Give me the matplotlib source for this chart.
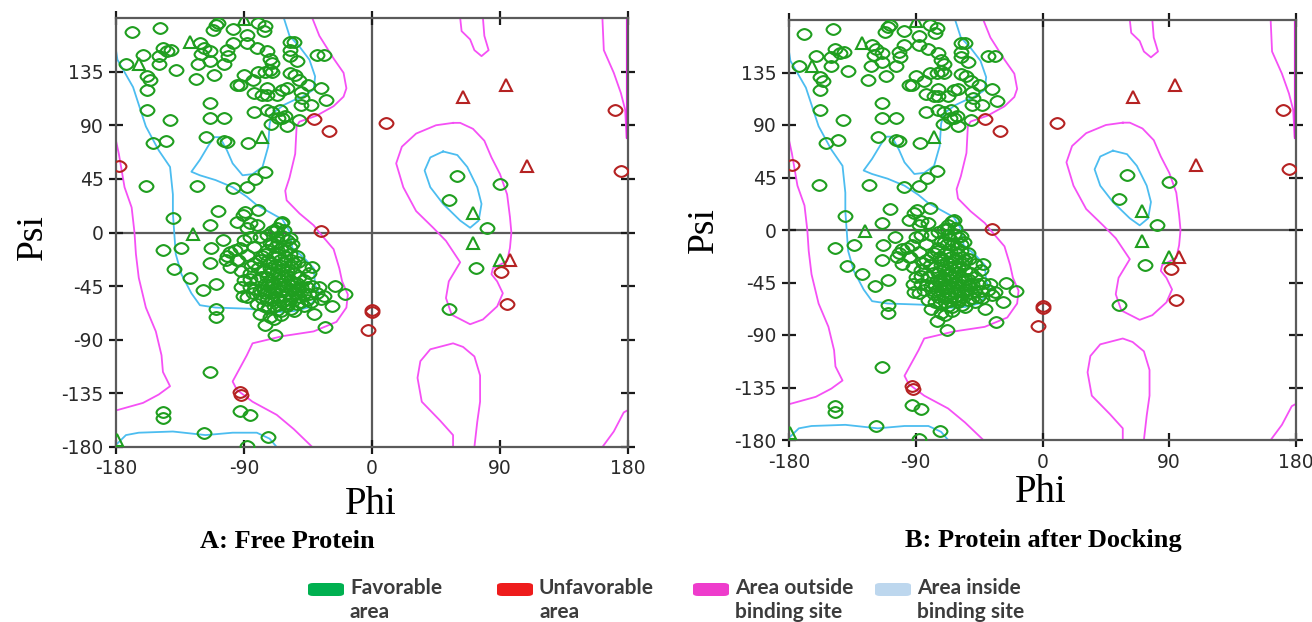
import matplotlib
matplotlib.use("Agg")
import matplotlib.pyplot as plt
import numpy as np
from matplotlib.path import Path
from matplotlib.patches import FancyBboxPatch

plt.rcParams["axes.unicode_minus"] = False
plt.rcParams["font.family"] = "DejaVu Sans"

W, H = 1312, 622

# ---------------------------------------------------------------------------
# residues (phi, psi)
# ---------------------------------------------------------------------------
fav_upper = [
    (-169, 168), (-149, 172), (-110, 174), (-108, 176), (-112, 170), (-98, 171),
    (-88, 166), (-80, 176), (-75, 173), (-76, 169),
    (-121, 159), (-118, 155), (-114, 152), (-120, 150), (-102, 153), (-101, 148),
    (-98, 159), (-88, 159), (-81, 155), (-74, 152), (-72, 146), (-70, 142),
    (-58, 160), (-55, 160), (-58, 153), (-58, 148), (-53, 144), (-39, 149), (-34, 149),
    (-161, 149), (-147, 155), (-141, 153), (-144, 152), (-150, 148), (-173, 141),
    (-150, 141), (-138, 136),
    (-158, 131), (-156, 128), (-158, 120), (-122, 141), (-124, 129), (-111, 132),
    (-104, 141), (-114, 144),
    (-90, 132), (-95, 124), (-93, 124), (-84, 128), (-80, 135), (-75, 135),
    (-72, 136), (-70, 135),
    (-74, 121), (-83, 117), (-77, 115), (-74, 115), (-63, 120), (-60, 121), (-67, 115),
    (-58, 134), (-54, 132), (-51, 128), (-45, 124), (-50, 118), (-36, 121), (-32, 111),
    (-49, 113), (-50, 107), (-43, 107),
    (-83, 101), (-74, 103), (-70, 101), (-65, 103), (-61, 98), (-63, 96), (-66, 96),
    (-71, 91), (-60, 89), (-51, 94),
    (-158, 103), (-114, 109), (-114, 96), (-104, 96), (-142, 94), (-154, 75),
    (-145, 77), (-117, 80), (-104, 77), (-102, 76), (-87, 75),
    (-75, 51), (-82, 45), (-88, 38), (-98, 37), (-159, 39), (-123, 39),
]
fav_bridge = [
    (-140, 12), (-108, 18), (-89, 17), (-80, 19), (-91, 15), (-114, 6), (-95, 9),
    (-86, 8), (-81, 6), (-88, 4), (-67, 4), (-63, 9), (-70, 1), (-62, 2),
]
fav_alpha = [
    (-102, -20), (-96, -15), (-94, -23), (-88, -19), (-83, -26), (-86, -34),
    (-79, -23), (-75, -18), (-72, -9), (-67, -4), (-60, -6), (-64, -13),
    (-69, -20), (-65, -23), (-58, -18), (-55, -26), (-60, -32), (-67, -34),
    (-74, -37), (-81, -40), (-86, -46), (-79, -48), (-72, -46), (-65, -43),
    (-58, -40), (-51, -37), (-46, -46), (-53, -48), (-60, -51), (-67, -54),
    (-74, -57), (-81, -60), (-88, -54), (-46, -57), (-53, -60), (-60, -62),
    (-67, -65), (-39, -51), (-37, -46), (-44, -34), (-48, -29), (-72, -26),
    (-76, -32), (-62, -37), (-55, -34), (-69, -62), (-76, -62), (-48, -62),
    (-86, -39), (-92, -32), (-100, -29), (-64, 8), (-68, 1), (-58, -12),
    (-53, -20), (-72, -51), (-65, -57), (-58, -57), (-51, -54), (-83, -12),
    (-79, -4), (-74, -2), (-86, -4), (-90, -6),
    (-73, -23), (-66, -29), (-61, -20), (-59, -43), (-64, -48), (-71, -40),
    (-75, -51), (-54, -51), (-50, -46), (-57, -23), (-68, -12), (-66, -18), (-74, -15),
    (-70, -10), (-66, -8), (-61, -15), (-56, -10), (-72, -30), (-68, -27),
    (-63, -31), (-57, -29), (-52, -25), (-78, -37), (-70, -43), (-62, -45),
    (-55, -42), (-48, -40), (-76, -48), (-68, -50), (-56, -53), (-50, -58),
    (-44, -52), (-63, -58), (-70, -57), (-77, -55), (-82, -47), (-85, -28),
    (-90, -40), (-64, -66), (-57, -64), (-52, -47), (-60, -36), (-66, -38),
    (-79, -68), (-72, -71), (-64, -69), (-55, -66), (-93, -13), (-100, -16),
    (-95, -23), (-103, -23), (-92, -46), (-84, -51),
    (-62, -25), (-70, -33), (-64, -40), (-57, -47), (-62, -53), (-69, -47),
    (-75, -43), (-80, -30), (-59, -60), (-66, -61), (-53, -42), (-48, -52),
    (-73, -63), (-77, -20), (-63, -3), (-58, -5), (-42, -45), (-43, -58),
]
fav_sparse = [
    (-105, -6), (-113, -13), (-134, -13), (-147, -15), (-139, -31), (-128, -38),
    (-119, -48), (-110, -43), (-114, -26), (-110, -64), (-110, -71), (-91, -53),
    (-75, -78), (-68, -86), (-69, -73), (-41, -68), (-33, -79), (-26, -45),
    (-19, -52), (-28, -62), (-42, -29), (-34, -53), (-36, -56),
    (-114, -117), (-147, -151), (-147, -156), (-118, -168), (-93, -150),
    (-86, -153), (-73, -172), (-88, -179),
    (60, 47), (90, 41), (54, 27), (81, 4), (73, -30), (54, -64),
]
fav_tri = [(-90, 179), (-128, 160), (-164, 141), (-77, 80), (-126, -1),
           (-179, -174), (71, 16), (71, -9), (90, -23)]
unfav_circ = [(-41, 95), (-30, 85), (10, 92), (-178, 56), (-36, 1), (171, 103),
              (175, 52), (0, -65), (0, -67), (-3, -82), (-93, -134), (-92, -136),
              (91, -33), (95, -60)]
unfav_tri = [(64, 114), (94, 124), (109, 56), (97, -23)]

# ---------------------------------------------------------------------------
# region boundaries (phi, psi)
# ---------------------------------------------------------------------------
outside_main = [
    (-42, 180), (-37, 165), (-27, 146), (-20, 134), (-18, 121), (-20, 114),
    (-27, 106), (-39, 98), (-51, 93), (-53, 89), (-54, 66), (-58, 46), (-61, 35),
    (-60, 27), (-51, 16), (-41, 6), (-37, 0), (-27, -14), (-23, -30), (-21, -41),
    (-17, -52), (-18, -63), (-25, -75), (-41, -83), (-63, -87), (-84, -93),
    (-88, -103), (-93, -114), (-98, -125), (-95, -132), (-84, -142), (-67, -153),
    (-55, -165), (-42, -180),
]
outside_left = [
    (-180, 77), (-178, 66), (-174, 38), (-169, 21), (-167, 0), (-166, -18),
    (-164, -38), (-159, -63), (-152, -83), (-148, -103), (-147, -117),
    (-142, -129), (-150, -136), (-161, -143), (-179, -149), (-180, -149),
]
outside_loop = [
    (57, 92), (45, 90), (31, 83), (21, 72), (17, 58), (22, 38), (31, 18), (43, 4),
    (52, -7), (62, -25), (54, -41), (52, -55), (56, -69), (69, -77), (78, -73),
    (88, -62), (92, -51), (88, -41), (84, -35), (85, -30), (95, -24), (97, -13),
    (98, 0), (97, 13), (95, 32), (90, 49), (84, 63), (79, 77), (71, 87), (62, 92),
    (57, 92),
]
outside_lower = [
    (57, -180), (57, -170), (48, -158), (35, -142), (32, -122), (34, -108),
    (41, -98), (57, -93), (64, -96), (72, -104), (76, -120), (76, -142),
    (74, -159), (72, -180),
]
outside_top = [(62, 180), (63, 169), (69, 162), (72, 153), (77, 148), (82, 153),
               (79, 165), (78, 180)]
outside_edge = [(162, 180), (163, 153), (170, 134), (175, 117), (178, 103),
                (179, 80)]
outside_edge_bold = [(180, 180), (180, 80)]
outside_corner = [(162, -180), (170, -167), (177, -151), (180, -149), (180, -180)]

inside_main = [
    (-62, 180), (-58, 165), (-51, 156), (-44, 145), (-40, 131), (-41, 120),
    (-50, 113), (-55, 111), (-62, 107), (-70, 100), (-72, 91), (-73, 72),
    (-77, 55), (-84, 49), (-91, 48), (-98, 58), (-102, 69), (-107, 80),
    (-111, 80), (-115, 73), (-121, 61), (-127, 51), (-121, 48), (-110, 44),
    (-98, 38), (-88, 30), (-81, 23), (-72, 17), (-63, 11), (-58, 1), (-56, -13),
    (-48, -21), (-41, -30), (-40, -44), (-37, -52), (-45, -63), (-55, -66),
    (-70, -67), (-86, -64), (-110, -63), (-121, -61), (-127, -51), (-134, -35),
    (-138, -18), (-139, -1), (-140, 16), (-140, 32), (-142, 55), (-150, 69),
    (-159, 89), (-168, 122), (-179, 145), (-180, 153),
]
inside_bottom = [
    (-179, -177), (-173, -170), (-164, -168), (-140, -167), (-117, -170),
    (-98, -168), (-81, -168), (-72, -173), (-67, -180),
]
inside_loop = [
    (50, 68), (41, 63), (37, 52), (41, 38), (50, 24), (62, 10), (69, 4), (75, 10),
    (77, 24), (74, 38), (67, 55), (60, 65), (50, 68),
]

outside_lines = [outside_main, outside_left, outside_loop, outside_lower,
                 outside_top, outside_edge, outside_corner]
inside_lines = [inside_main, inside_bottom, inside_loop]

legend_colors = ["#00b050", "#ee1c1c", "#ee3ccc", "#bdd7ee"]
legend_lines = [("Favorable", "area"), ("Unfavorable", "area"),
                ("Area outside", "binding site"), ("Area inside", "binding site")]
legend_x = [308, 497, 693, 875]

GREEN = "#1f9e1f"
RED = "#b52222"
MAGENTA = "#f550f5"
CYAN = "#4cbdf0"
AXIS = "#5a5a5a"

# rounded-diamond ring (superellipse), like the program's "circle" glyph
_t = np.linspace(0, 2 * np.pi, 49)
_c, _s = np.cos(_t), np.sin(_t)
ring = Path(np.column_stack([np.sign(_c) * np.abs(_c) ** 1.18,
                             0.78 * np.sign(_s) * np.abs(_s) ** 1.18]), closed=True)


def xy(points):
    return [p[0] for p in points], [p[1] for p in points]


def draw_panel(ax):
    for line in outside_lines:
        ax.plot(*xy(line), color=MAGENTA, lw=1.3, zorder=2)
    ax.plot(*xy(outside_edge_bold), color="#e020e0", lw=3, zorder=2)
    for line in inside_lines:
        ax.plot(*xy(line), color=CYAN, lw=1.3, zorder=2)
    ax.axhline(0, color=AXIS, lw=1.6, zorder=1)
    ax.axvline(0, color=AXIS, lw=1.6, zorder=1)

    circ_style = dict(ls="none", marker=ring, ms=10, mfc="none", mew=1.5, zorder=3)
    tri_style = dict(ls="none", marker="^", ms=8, mfc="none", mew=1.5, zorder=3)
    for pts in (fav_upper, fav_bridge, fav_alpha, fav_sparse):
        ax.plot(*xy(pts), mec=GREEN, **circ_style)
    ax.plot(*xy(fav_tri), mec=GREEN, **tri_style)
    ax.plot(*xy(unfav_circ), mec=RED, **circ_style)
    ax.plot(*xy(unfav_tri), mec=RED, **tri_style)

    ax.set_xlim(-180, 180)
    ax.set_ylim(-180, 180)
    ax.set_xticks([-180, -90, 0, 90, 180])
    ax.set_yticks([-180, -135, -90, -45, 0, 45, 90, 135])
    ax.tick_params(direction="inout", length=10, width=1.6, top=True, right=True,
                   color="#1a1a1a", labelsize=13.5, labelcolor="#2a2a2a", pad=4)
    for s in ax.spines.values():
        s.set_color(AXIS)
        s.set_linewidth(1.6)


fig = plt.figure(figsize=(W / 100, H / 100), dpi=100)
ax1 = fig.add_axes([116 / W, 1 - 447 / H, 512 / W, 429 / H])
ax2 = fig.add_axes([789 / W, 1 - 440 / H, 507 / W, 420 / H])
draw_panel(ax1)
draw_panel(ax2)

serif = "Liberation Serif"
fig.text(371 / W, 1 - 505 / H, "Phi", family=serif, fontsize=28, ha="center", va="center")
fig.text(1041 / W, 1 - 493 / H, "Phi", family=serif, fontsize=28, ha="center", va="center")
fig.text(33 / W, 1 - 237 / H, "Psi", family=serif, fontsize=27, rotation=90,
         ha="center", va="center")
fig.text(704 / W, 1 - 230 / H, "Psi", family=serif, fontsize=27, rotation=90,
         ha="center", va="center")
fig.text(287 / W, 1 - 541 / H, "A: Free Protein", family=serif, fontsize=19,
         weight="bold", ha="center", va="center")
fig.text(1043 / W, 1 - 541 / H, "B: Protein after Docking", family=serif, fontsize=19,
         weight="bold", ha="center", va="center")

for x0, col, (l1, l2) in zip(legend_x, legend_colors, legend_lines):
    fig.patches.append(FancyBboxPatch(
        (x0 / W, 1 - 596 / H), 36 / W, 13 / H,
        boxstyle="round,pad=0,rounding_size=0.004", transform=fig.transFigure,
        facecolor=col, edgecolor="none"))
    fig.text((x0 + 42) / W, 1 - 588 / H, l1, family="Lato", weight="bold",
             fontsize=15, color="#3c3c3c", va="center")
    fig.text((x0 + 42) / W, 1 - 612 / H, l2, family="Lato", weight="bold",
             fontsize=15, color="#3c3c3c", va="center")

fig.savefig("out.png", dpi=100)
